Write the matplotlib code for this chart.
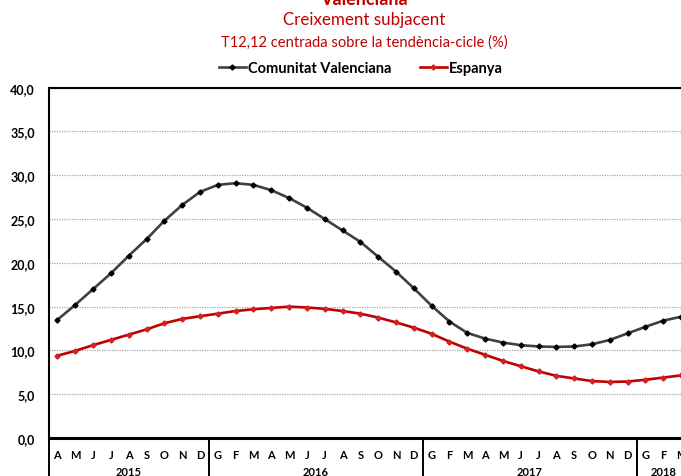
import matplotlib
matplotlib.use("Agg")
import matplotlib.pyplot as plt
import matplotlib.transforms as mtransforms

plt.rcParams['font.family'] = ['Lato', 'DejaVu Sans']

# months from April 2015 to March 2018 (Catalan initials)
months = ["A", "M", "J", "J", "A", "S", "O", "N", "D",
          "G", "F", "M", "A", "M", "J", "J", "A", "S", "O", "N", "D",
          "G", "F", "M", "A", "M", "J", "J", "A", "S", "O", "N", "D",
          "G", "F", "M"]
years = ["2015", "2016", "2017", "2018"]
year_start = [0, 9, 21, 33]
year_end = [8, 20, 32, 35]

comunitat = [13.5, 15.2, 17.0, 18.8, 20.8, 22.7, 24.8, 26.6, 28.1,
             28.9, 29.1, 28.9, 28.3, 27.4, 26.3, 25.0, 23.7, 22.4, 20.7, 19.0, 17.1,
             15.1, 13.3, 12.0, 11.35, 10.9, 10.6, 10.45, 10.4, 10.45, 10.7, 11.2, 11.95,
             12.7, 13.4, 13.85]
espanya = [9.4, 9.95, 10.6, 11.2, 11.8, 12.4, 13.1, 13.6, 13.9,
           14.2, 14.5, 14.7, 14.85, 15.0, 14.9, 14.75, 14.5, 14.2, 13.75, 13.2, 12.6,
           11.9, 11.0, 10.2, 9.5, 8.8, 8.2, 7.6, 7.1, 6.8, 6.5, 6.4, 6.45,
           6.65, 6.9, 7.15]

red = '#C00000'
W, H = 681, 477
fig = plt.figure(figsize=(W / 100, H / 100), dpi=100)

# plot area runs past the right edge (chart is cropped)
left, right, top, bottom = 48.5, 48.5 + 36 * 17.82, 88.7, 439
ax = fig.add_axes([left / W, 1 - bottom / H, (right - left) / W, (bottom - top) / H])

x = list(range(len(months)))
ax.plot(x, comunitat, color='#404040', lw=1.9, marker='D', markersize=2.6,
        markerfacecolor='black', markeredgecolor='black', label='Comunitat Valenciana')
ax.plot(x, espanya, color=red, lw=1.9, marker='D', markersize=2.6,
        markerfacecolor='#D42020', markeredgecolor='#D42020', label='Espanya')

ax.set_xlim(-0.5, len(months) - 0.5)
ax.set_ylim(0, 40)
ax.set_yticks(range(0, 41, 5))
ax.set_yticklabels([f"{v:.1f}".replace('.', ',') for v in range(0, 41, 5)],
                   fontsize=9, fontweight='bold')
ax.set_xticks(x)
ax.set_xticklabels(months, fontsize=8, fontweight='bold')
ax.tick_params(axis='both', length=0)
ax.tick_params(axis='y', pad=9.7)
ax.tick_params(axis='x', pad=8)

ax.yaxis.grid(True, color='#A8A8A8', linestyle=(0, (1, 1)), lw=0.9)
ax.set_axisbelow(True)
for s in ['left', 'top']:
    ax.spines[s].set_linewidth(1.5)
ax.spines['bottom'].set_linewidth(2.2)
ax.spines['right'].set_visible(False)

# year separators and labels below the month row
trans = mtransforms.blended_transform_factory(ax.transData, ax.transAxes)
for xs in [-0.5, 8.5, 20.5, 32.5]:
    ax.plot([xs, xs], [0, -0.2], color='black', lw=1.4, transform=trans, clip_on=False)
for yr, a, b in zip(years, year_start, year_end):
    ax.text((a + b) / 2, -0.096, yr, transform=trans, ha='center', va='center',
            fontsize=8, fontweight='bold')

fig.text(364 / W, 1 - 5 / H, "Valenciana", color=red, fontsize=13, fontweight='bold',
         ha='center', va='baseline')
fig.text(364 / W, 1 - 25 / H, "Creixement subjacent", color=red, fontsize=12.2,
         ha='center', va='baseline')
fig.text(364 / W, 1 - 47 / H, "T12,12 centrada sobre la tendència-cicle (%)", color=red,
         fontsize=10.6, ha='center', va='baseline')

leg = fig.legend(loc='center', bbox_to_anchor=(361 / W, 1 - 69 / H), ncol=2, frameon=False,
                 prop={'size': 10.5, 'weight': 'bold'}, handlelength=1.8, handletextpad=0.15,
                 columnspacing=2.0)

fig.savefig("out.png", dpi=100)
